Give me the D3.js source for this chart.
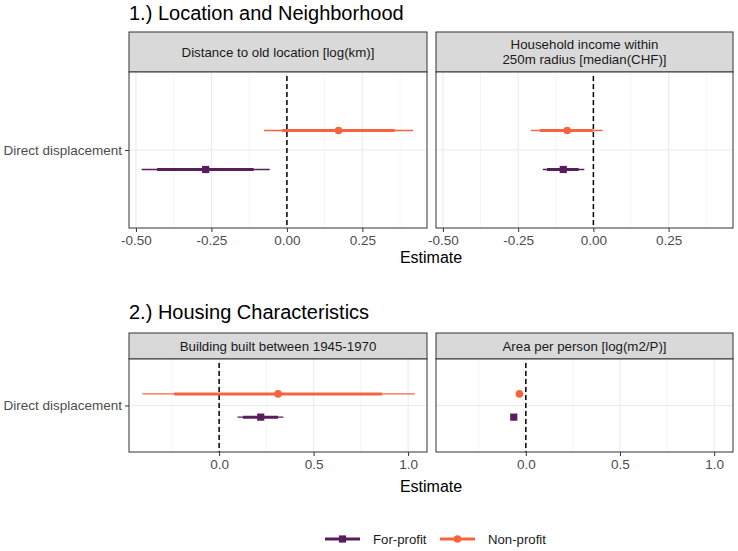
<!DOCTYPE html>
<html>
<head>
<meta charset="utf-8">
<script src="https://cdn.jsdelivr.net/npm/d3@7"></script>
<style>
  body { margin: 0; background: white; }
  text { font-family: "Liberation Sans", Arial, sans-serif; }
</style>
</head>
<body>
<div id="plot"></div>
<script>
// Chart data
const rowTitles = ["1.) Location and Neighborhood", "2.) Housing Characteristics"];
const facetLabels = [
  ["Distance to old location [log(km)]"],
  ["Household income within", "250m radius [median(CHF)]"],
  ["Building built between 1945-1970"],
  ["Area per person [log(m2/P)]"]
];
const facetRow = [0, 0, 1, 1];
const categories = ["Direct displacement"];
const groups = ["Non-profit", "For-profit"];

// estimates and intervals per facet (thick = inner, thin = outer)
const forProfitEst = [-0.269, -0.100, 0.220, -0.064];
const forProfitLoIn = [-0.430, -0.154, 0.126, -0.070];
const forProfitHiIn = [-0.110, -0.049, 0.312, -0.058];
const forProfitLoOut = [-0.481, -0.168, 0.097, -0.074];
const forProfitHiOut = [-0.057, -0.030, 0.340, -0.054];

const nonProfitEst = [0.171, -0.087, 0.312, -0.034];
const nonProfitLoIn = [-0.015, -0.177, -0.238, -0.040];
const nonProfitHiIn = [0.357, -0.002, 0.862, -0.028];
const nonProfitLoOut = [-0.076, -0.207, -0.406, -0.044];
const nonProfitHiOut = [0.418, 0.031, 1.035, -0.024];

const rowTicks = [[-0.5, -0.25, 0, 0.25], [0, 0.5, 1.0]];
const rowMinor = [[-0.375, -0.125, 0.125, 0.375], [-0.25, 0.25, 0.75]];
const rowTickFormat = [d => d.toFixed(2), d => d.toFixed(1)];  // plain hyphen minus like ggplot
const rowDomain = [[-0.523, 0.464], [-0.477, 1.10]];

const colors = { "For-profit": "#5a1d5c", "Non-profit": "#f6643f" };

// layout
const width = 738, height = 551;
const colX = [[129, 427], [436, 733]];
const rowLayout = [
  { title: 20, stripTop: 32, panelTop: 72, panelBottom: 228, axisTitle: 263 },
  { title: 319, stripTop: 333, panelTop: 359, panelBottom: 452, axisTitle: 492 }
];

const svg = d3.select("#plot").append("svg")
  .attr("width", width)
  .attr("height", height)
  .style("background-color", "white");

// build series records
const series = {
  "For-profit": { est: forProfitEst, loIn: forProfitLoIn, hiIn: forProfitHiIn, loOut: forProfitLoOut, hiOut: forProfitHiOut },
  "Non-profit": { est: nonProfitEst, loIn: nonProfitLoIn, hiIn: nonProfitHiIn, loOut: nonProfitLoOut, hiOut: nonProfitHiOut }
};

rowTitles.forEach((t, r) => {
  const L = rowLayout[r];
  svg.append("text")
    .attr("x", colX[0][0])
    .attr("y", L.title)
    .attr("font-size", 20)
    .attr("fill", "#000")
    .text(t);

  svg.append("text")
    .attr("x", (colX[0][0] + colX[1][1]) / 2)
    .attr("y", L.axisTitle)
    .attr("text-anchor", "middle")
    .attr("font-size", 16)
    .attr("fill", "#000")
    .text("Estimate");
});

facetLabels.forEach((lab, i) => {
  const r = facetRow[i];
  const c = i % 2;
  const L = rowLayout[r];
  const x0 = colX[c][0], x1 = colX[c][1];

  const x = d3.scaleLinear().domain(rowDomain[r]).range([x0, x1]);
  const y = d3.scalePoint().domain(categories).range([L.panelTop, L.panelBottom]).padding(0.5);
  const ph = L.panelBottom - L.panelTop;
  const dodge = d3.scalePoint().domain(groups).range([-0.125 * ph, 0.125 * ph]);

  const g = svg.append("g");

  // strip
  g.append("rect")
    .attr("x", x0).attr("y", L.stripTop)
    .attr("width", x1 - x0).attr("height", L.panelTop - L.stripTop)
    .attr("fill", "#d9d9d9").attr("stroke", "#333").attr("stroke-width", 1);
  const stripMid = (L.stripTop + L.panelTop) / 2;
  lab.forEach((line, k) => {
    g.append("text")
      .attr("x", (x0 + x1) / 2)
      .attr("y", stripMid + (k - (lab.length - 1) / 2) * 15)
      .attr("dy", "0.35em")
      .attr("text-anchor", "middle")
      .attr("font-size", 13.3)
      .attr("fill", "#1a1a1a")
      .text(line);
  });

  // panel background + grid
  g.append("rect")
    .attr("x", x0).attr("y", L.panelTop)
    .attr("width", x1 - x0).attr("height", ph)
    .attr("fill", "white");

  g.selectAll(".minor").data(rowMinor[r]).join("line")
    .attr("x1", d => x(d)).attr("x2", d => x(d))
    .attr("y1", L.panelTop).attr("y2", L.panelBottom)
    .attr("stroke", "#f0f0f0").attr("stroke-width", 0.7);
  g.selectAll(".major").data(rowTicks[r].filter(d => x(d) > x0 && x(d) < x1)).join("line")
    .attr("x1", d => x(d)).attr("x2", d => x(d))
    .attr("y1", L.panelTop).attr("y2", L.panelBottom)
    .attr("stroke", "#ebebeb").attr("stroke-width", 1.1);
  g.selectAll(".hgrid").data(categories).join("line")
    .attr("x1", x0).attr("x2", x1)
    .attr("y1", d => y(d)).attr("y2", d => y(d))
    .attr("stroke", "#ebebeb").attr("stroke-width", 1.1);

  // zero reference line
  g.append("line")
    .attr("x1", x(0)).attr("x2", x(0))
    .attr("y1", L.panelTop + 4).attr("y2", L.panelBottom)
    .attr("stroke", "#000").attr("stroke-width", 1.5)
    .attr("stroke-dasharray", "5,3");

  // intervals and points
  groups.forEach(grp => {
    const s = series[grp];
    const yy = y(categories[0]) + dodge(grp);
    g.append("line")
      .attr("x1", x(s.loOut[i])).attr("x2", x(s.hiOut[i]))
      .attr("y1", yy).attr("y2", yy)
      .attr("stroke", colors[grp]).attr("stroke-width", 1.3);
    g.append("line")
      .attr("x1", x(s.loIn[i])).attr("x2", x(s.hiIn[i]))
      .attr("y1", yy).attr("y2", yy)
      .attr("stroke", colors[grp]).attr("stroke-width", 3);
    if (grp === "For-profit") {
      g.append("rect")
        .attr("x", x(s.est[i]) - 3.6).attr("y", yy - 3.6)
        .attr("width", 7.2).attr("height", 7.2)
        .attr("fill", colors[grp]);
    } else {
      g.append("circle")
        .attr("cx", x(s.est[i])).attr("cy", yy).attr("r", 3.8)
        .attr("fill", colors[grp]);
    }
  });

  // panel border
  g.append("rect")
    .attr("x", x0).attr("y", L.panelTop)
    .attr("width", x1 - x0).attr("height", ph)
    .attr("fill", "none").attr("stroke", "#333").attr("stroke-width", 1);

  // x axis
  const xAxis = d3.axisBottom(x)
    .tickValues(rowTicks[r].filter(d => x(d) >= x0 && x(d) <= x1))
    .tickFormat(rowTickFormat[r])
    .tickSize(4).tickPadding(3);
  const ax = g.append("g")
    .attr("transform", `translate(0,${L.panelBottom})`)
    .call(xAxis);
  ax.select(".domain").remove();
  ax.selectAll(".tick line").attr("stroke", "#333");
  ax.selectAll(".tick text")
    .attr("font-size", 13.5)
    .attr("font-family", "Liberation Sans, Arial, sans-serif")
    .attr("fill", "#4d4d4d");

  // y axis only on first column
  if (c === 0) {
    const yAxis = d3.axisLeft(y).tickSize(4).tickPadding(3);
    const ay = g.append("g")
      .attr("transform", `translate(${x0},0)`)
      .call(yAxis);
    ay.select(".domain").remove();
    ay.selectAll(".tick line").attr("stroke", "#333");
    ay.selectAll(".tick text")
      .attr("font-size", 13.5)
      .attr("font-family", "Liberation Sans, Arial, sans-serif")
      .attr("fill", "#4d4d4d");
  }
});

// legend
const legendKeys = ["For-profit", "Non-profit"];
const legendX = [325, 440];
const legendY = 539;
legendKeys.forEach((k, i) => {
  const lg = svg.append("g").attr("transform", `translate(${legendX[i]},${legendY})`);
  lg.append("line")
    .attr("x1", 0).attr("x2", 35).attr("y1", 0).attr("y2", 0)
    .attr("stroke", colors[k]).attr("stroke-width", 3);
  if (k === "For-profit") {
    lg.append("rect").attr("x", 17.5 - 3.6).attr("y", -3.6)
      .attr("width", 7.2).attr("height", 7.2).attr("fill", colors[k]);
  } else {
    lg.append("circle").attr("cx", 17.5).attr("cy", 0).attr("r", 3.8).attr("fill", colors[k]);
  }
  lg.append("text")
    .attr("x", 48).attr("y", 0).attr("dy", "0.35em")
    .attr("font-size", 13.2)
    .attr("fill", "#1a1a1a")
    .text(k);
});
</script>
</body>
</html>
